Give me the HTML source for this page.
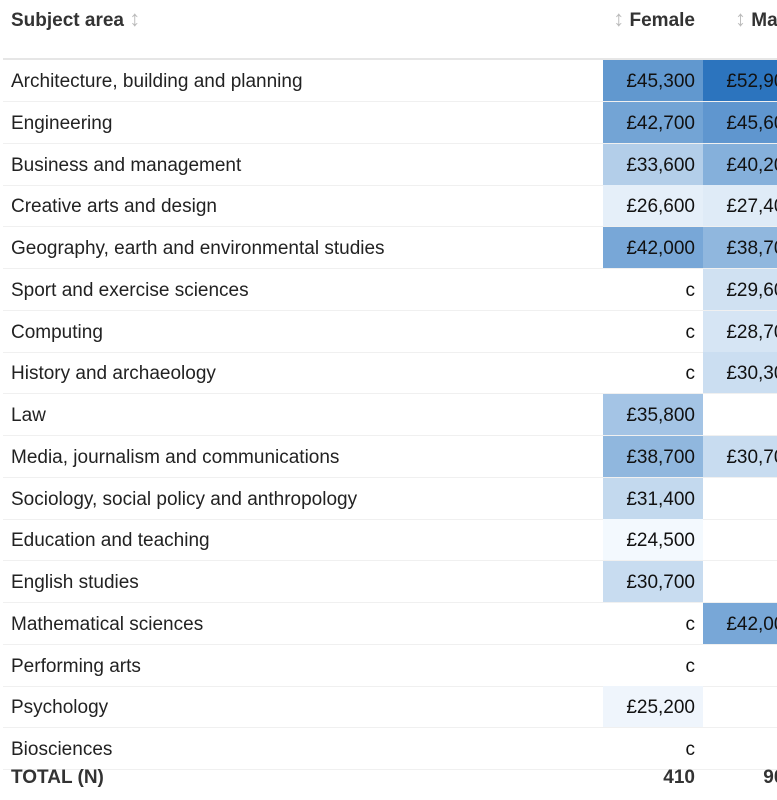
<!DOCTYPE html>
<html><head><meta charset="utf-8">
<style>
body{margin:0;width:777px;height:800px;overflow:hidden;background:#fff;font-family:"Liberation Sans",Arial,sans-serif;color:#222;}
#wrap{position:absolute;left:3px;top:0;width:774px;height:800px;overflow:hidden;}
.hdr{position:absolute;top:0;height:58px;font-weight:bold;font-size:19px;color:#333;}
.hline{position:absolute;left:0;top:58px;width:900px;height:2px;background:#e6e6e6;}
.row{position:absolute;left:0;width:900px;height:42px;border-bottom:1px solid #f0f0f0;font-size:19px;box-sizing:border-box;color:#222;}
.lab{position:absolute;left:8px;top:1px;line-height:42px;color:#222;}
.cell{position:absolute;top:0;height:41px;line-height:43px;width:100px;text-align:right;box-sizing:border-box;padding-right:8px;color:#111;}
.sort{color:#bbb;font-weight:normal;font-size:22px;}
</style></head><body>
<div id="wrap">
<div class="hdr" style="left:8px;line-height:38px;">Subject area <span class="sort">↕</span></div>
<div class="hdr" style="left:600px;width:100px;text-align:right;line-height:38px;padding-right:8px;box-sizing:border-box;white-space:nowrap;"><span class="sort">↕</span> Female</div>
<div class="hdr" style="left:700px;width:100px;line-height:38px;padding-left:32px;box-sizing:border-box;white-space:nowrap;"><span class="sort">↕</span> Male</div>
<div class="hline"></div>
<div id="body"></div>
</div>
<script>
const subjects=["Architecture, building and planning","Engineering","Business and management","Creative arts and design","Geography, earth and environmental studies","Sport and exercise sciences","Computing","History and archaeology","Law","Media, journalism and communications","Sociology, social policy and anthropology","Education and teaching","English studies","Mathematical sciences","Performing arts","Psychology","Biosciences"];
const female=[45300,42700,33600,26600,42000,"c","c","c",35800,38700,31400,24500,30700,"c","c",25200,"c"];
const male=[52900,45600,40200,27400,38700,29600,28700,30300,null,30700,null,null,null,42000,null,null,null];
const totals=["410","900"];
const vmin=24000,vmax=53000;
function col(v){
  if(typeof v!=="number")return "transparent";
  const t=Math.max(0,Math.min(1,(v-vmin)/(vmax-vmin)));
  const a=[247,251,255],b=[43,116,190];
  return "rgb("+a.map((x,i)=>Math.round(x+(b[i]-x)*t)).join(",")+")";
}
function fmt(v){return typeof v==="number"?"£"+v.toLocaleString("en-GB"):(v||"");}
const body=document.getElementById("body");
const top0=60,rh=41.75;
function mk(cls,txt,css){const d=document.createElement("div");d.className=cls;d.textContent=txt;Object.assign(d.style,css||{});return d;}
subjects.forEach((s,i)=>{
  const r=document.createElement("div");
  
  
  r.className="row";r.style.top=(top0+i*rh)+"px";
  const l=mk("lab",s);
  
  
  r.appendChild(l);
  const f=mk("cell",fmt(female[i]),{left:"600px",background:col(female[i])});
  
  
  r.appendChild(f);
  const m=mk("cell",fmt(male[i]),{left:"700px",background:col(male[i])});
  
  
  r.appendChild(m);
  body.appendChild(r);
});
const t=document.createElement("div");


t.className="row";t.style.top="758px";t.style.fontWeight="bold";t.style.borderBottom="none";
const tl=mk("lab","TOTAL (N)",{lineHeight:"40px",top:"0",color:"#333"});


t.appendChild(tl);
const tf=mk("cell",totals[0],{left:"600px",lineHeight:"40px",color:"#333"});


t.appendChild(tf);
const tm=mk("cell",totals[1],{left:"700px",lineHeight:"40px",color:"#333"});


t.appendChild(tm);
body.appendChild(t);
</script>
</body></html>
